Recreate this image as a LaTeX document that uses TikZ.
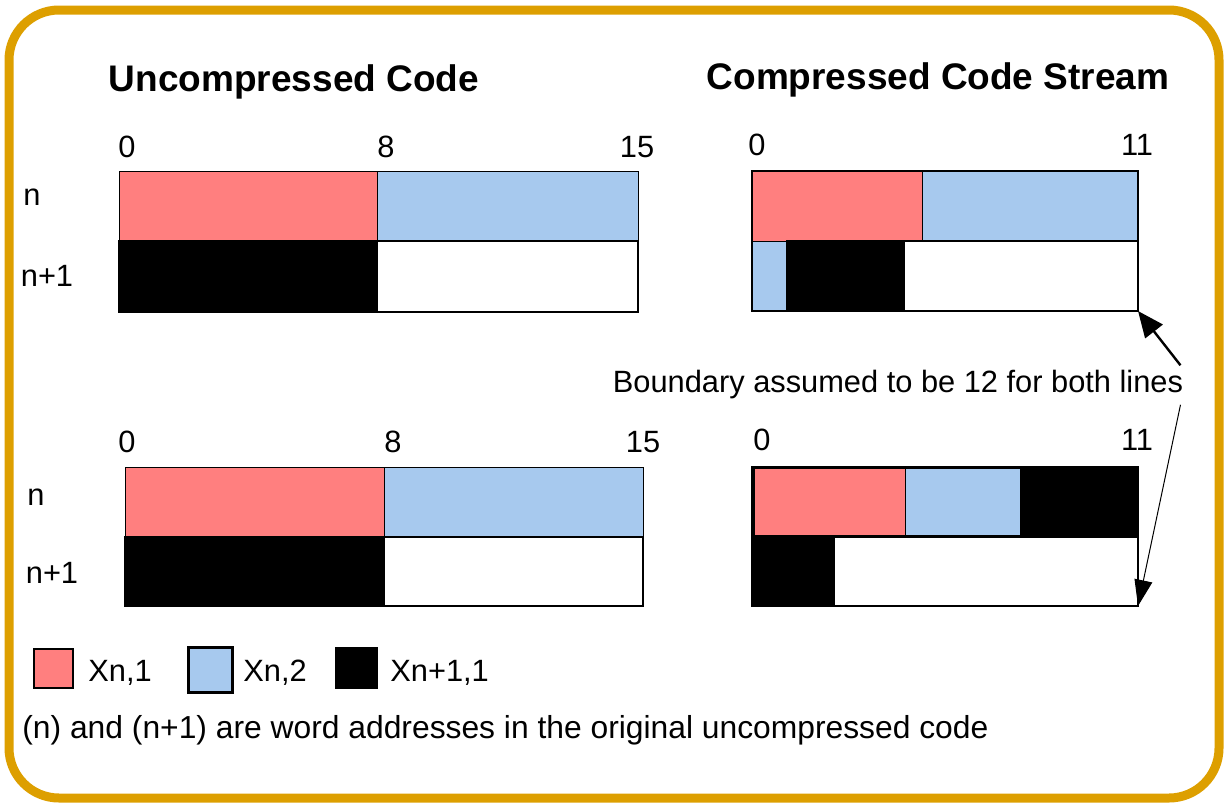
\documentclass[tikz,border=0pt]{standalone}
\usepackage{fontspec}
\setmainfont{Liberation Sans}
\usetikzlibrary{arrows.meta, calc}
\definecolor{xred}{HTML}{FF7F7F}
\definecolor{xblue}{HTML}{A7C9EE}
\definecolor{frameorange}{HTML}{DD9F00}

\begin{document}
\begin{tikzpicture}[
  x=0.5pt, y=-0.5pt,
  font=\fontsize{15.4}{18}\selectfont,
  title/.style={font=\fontsize{18.5}{22}\selectfont\bfseries, anchor=base},
  lbl/.style={anchor=base, inner sep=0pt},
  cell/.style={draw=black, line width=1pt},
  pale/.style={draw=black, line width=0.4pt},
  arr/.style={-{Triangle[length=13pt,width=11pt]}, line width=1.2pt},
  tarr/.style={-{Triangle[length=13pt,width=9pt]}, line width=0.5pt}
]
\useasboundingbox (0,0) rectangle (1225,803);

% Outer frame
\draw[frameorange, line width=4.5pt, rounded corners=25pt] (9,10) rectangle (1219,798);

% Titles
\node[title] (tunc) at (294,91) {Uncompressed Code};
\node[title] (tcmp) at (938,89) {Compressed Code Stream};

% Uncompressed, upper
\draw[pale, fill=xred]  (119,171) rectangle (377,241);
\draw[pale, fill=xblue] (377,171) rectangle (638,241);
\draw[cell, fill=black] (119,241) rectangle (377,312);
\draw[cell, fill=white] (377,241) rectangle (638,312);
\foreach \x/\t in {127/0, 386/8, 637/15}
  \node[lbl] (ua\t) at (\x,157) {\t};
\node[lbl] (una) at (32,205) {n};
\node[lbl] (unb) at (47,286) {n+1};

% Uncompressed, lower
\draw[pale, fill=xred]  (125,467) rectangle (384,537);
\draw[pale, fill=xblue] (384,467) rectangle (643,537);
\draw[cell, fill=black] (125,537) rectangle (384,606);
\draw[cell, fill=white] (384,537) rectangle (643,606);
\foreach \x/\t in {127/0, 393/8, 643/15}
  \node[lbl] (ub\t) at (\x,452) {\t};
\node[lbl] (unc) at (36,505) {n};
\node[lbl] (und) at (52,583) {n+1};

% Compressed, upper
\draw[pale, fill=xred]  (752,171) rectangle (922,241);
\draw[pale, fill=xblue] (922,171) rectangle (1138,241);
\draw[pale, fill=xblue] (752,241) rectangle (787,311);
\draw[cell, fill=black] (787,241) rectangle (904,311);
\draw[cell, fill=white] (904,241) rectangle (1138,311);
\draw[cell] (752,171) rectangle (1138,311) coordinate (ctop);
\foreach \x/\t in {757/0, 1137/11}
  \node[lbl] (ca\t) at (\x,155) {\t};

% Compressed, lower
\draw[cell, fill=black] (752,467) rectangle (1138,537);
\draw[pale, fill=xred]  (754,468) rectangle (905,535);
\draw[pale, fill=xblue] (905,468) rectangle (1020,535);
\draw[cell, fill=black] (752,537) rectangle (834,606);
\draw[cell, fill=white] (834,537) rectangle (1138,606);
\coordinate (cbot) at (1138,606);
\foreach \x/\t in {762/0, 1137/11}
  \node[lbl] (cb\t) at (\x,450) {\t};

% Boundary note
\node[lbl] (bnd) at (898,392) {Boundary assumed to be 12 for both lines};
\draw[arr]  ($(bnd.north east)+(-3,-4)$) -- (ctop);
\draw[tarr] ($(bnd.south east)+(-3,6)$) -- (cbot);

% Legend
\draw[pale, line width=1pt, fill=xred] (34,649) rectangle (73,688);
\node[lbl, anchor=base west] (lga) at (88,681) {Xn,1};
\draw[cell, line width=1.5pt, fill=xblue] (188,647) rectangle (232,692);
\node[lbl, anchor=base west] (lgb) at (243,681) {Xn,2};
\draw[cell, fill=black] (336,648) rectangle (377,688);
\node[lbl, anchor=base west] (lgc) at (390,681) {Xn+1,1};

\node[lbl, anchor=base west, font=\fontsize{15.9}{19}\selectfont] (note) at (22,738)
  {(n) and (n+1) are word addresses in the original uncompressed code};

\end{tikzpicture}
\end{document}
